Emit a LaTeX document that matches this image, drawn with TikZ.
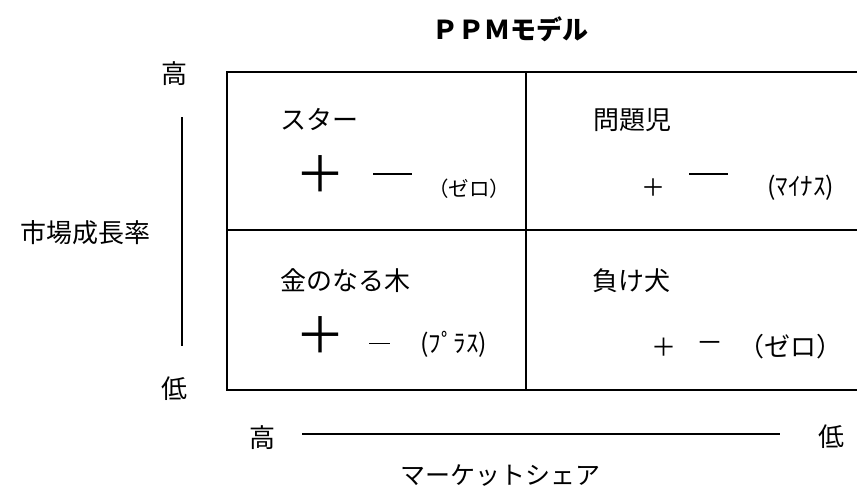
\documentclass[tikz,border=0pt]{standalone}
\usepackage{fontspec}
\setmainfont{Noto Sans CJK JP}
\begin{document}
\begin{tikzpicture}[x=1pt,y=-1pt,
  lbl/.style={inner sep=0pt,font=\fontsize{26}{30}\selectfont},
  half/.style={inner sep=0pt,font=\fontsize{25}{29}\selectfont},
  frame/.style={line width=1.7pt},
  axis/.style={line width=1.8pt}]
\useasboundingbox (0,0) rectangle (857,491);
% grid
\draw[frame] (860,72) -- (227,72) -- (227,390) -- (860,390);
\draw[frame] (227,230) -- (860,230);
\draw[line width=1.4pt] (526,72) -- (526,390);
% title
\node[inner sep=0pt,anchor=west,font=\fontsize{26}{30}\selectfont\bfseries] (title) at (432,29) {ＰＰＭモデル};
% vertical axis
\node[lbl] (vhigh) at (174,74) {高};
\node[lbl] (vlow) at (174,389) {低};
\node[lbl] (vname) at (85,233) {市場成長率};
\coordinate (vtop) at (182,117);
\coordinate (vbot) at (182,346);
\draw[axis] (vtop) -- (vbot);
% horizontal axis
\node[lbl] (hhigh) at (262,438) {高};
\node[lbl] (hlow) at (831,437) {低};
\node[lbl,anchor=west,font=\fontsize{25}{29}\selectfont] (hname) at (400,476) {マーケットシェア};
\coordinate (hl) at (302,434);
\coordinate (hr) at (780,434);
\draw[axis] (hl) -- (hr);
% cell 1
\node[lbl,anchor=west] (star) at (280,119) {スター};
\node[inner sep=0pt,font=\fontsize{50}{54}\selectfont] (p1) at (320,174) {＋};
\coordinate (d1a) at (373,174);
\coordinate (d1b) at (412,174);
\draw[line width=1.2pt] (d1a) -- (d1b);
\node[inner sep=0pt,anchor=west,font=\fontsize{20.5}{24}\selectfont] (z1) at (428,189) {（ゼロ）};
% cell 2
\node[lbl,anchor=west] (mon) at (593,120) {問題児};
\node[inner sep=0pt,font=\fontsize{24}{28}\selectfont] (p2) at (653,188) {＋};
\coordinate (d2a) at (689,174);
\coordinate (d2b) at (728,174);
\draw[line width=1.6pt] (d2a) -- (d2b);
\node[half,anchor=west] (m2) at (767,188) {(ﾏｲﾅｽ)};
% cell 3
\node[lbl,anchor=west] (kane) at (280,281) {金のなる木};
\node[inner sep=0pt,font=\fontsize{50}{54}\selectfont] (p3) at (320,335) {＋};
\coordinate (d3a) at (369,343);
\coordinate (d3b) at (390,343);
\draw[line width=0.8pt] (d3a) -- (d3b);
\node[half,anchor=west] (pl) at (420,344) {(ﾌﾟﾗｽ)};
% cell 4
\node[lbl,anchor=west] (make) at (592,281) {負け犬};
\node[inner sep=0pt,font=\fontsize{25}{29}\selectfont] (p4) at (664,347) {＋};
\node[inner sep=0pt,font=\fontsize{27}{31}\selectfont] (m4) at (710,347) {－};
\node[lbl,anchor=west] (z4) at (738,347) {（ゼロ）};
\end{tikzpicture}
\end{document}
